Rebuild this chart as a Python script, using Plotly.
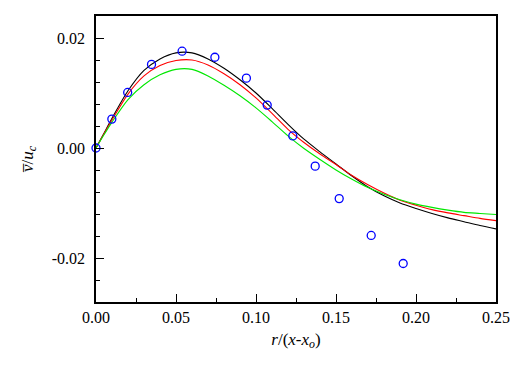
import plotly.graph_objects as go

# Measured points (blue circles)
exp_x = [0.0, 0.0099, 0.0198, 0.0347, 0.0538, 0.0743, 0.0940, 0.1070, 0.1230, 0.1370, 0.1520, 0.1720, 0.1920]
exp_y = [0.0, 0.00525, 0.0101, 0.0152, 0.0176, 0.0165, 0.0127, 0.0078, 0.0022, -0.0033, -0.0092, -0.0159, -0.0210]

# Model curves
curve_x = [0.0, 0.005, 0.01, 0.02, 0.03, 0.04, 0.05, 0.06, 0.07, 0.08, 0.09, 0.10, 0.11, 0.12, 0.13,
           0.14, 0.15, 0.16, 0.17, 0.18, 0.19, 0.20, 0.21, 0.22, 0.23, 0.24, 0.25]
black_y = [0.0, 0.0027, 0.0054, 0.0104, 0.0141, 0.0162, 0.0173, 0.0173, 0.0162, 0.0145, 0.0124, 0.0100, 0.0072,
           0.0043, 0.0016, -0.0007, -0.0029, -0.0051, -0.0071, -0.0087, -0.0100, -0.0110, -0.0119, -0.0127,
           -0.0134, -0.0141, -0.0147]
red_y = [0.0, 0.0026, 0.0051, 0.0098, 0.0131, 0.0150, 0.0159, 0.0160, 0.0151, 0.0135, 0.0115, 0.0091, 0.0063,
         0.0034, 0.0010, -0.0011, -0.0030, -0.0050, -0.0067, -0.0082, -0.0095, -0.0104, -0.0112, -0.0118,
         -0.0123, -0.0128, -0.0132]
green_y = [0.0, 0.0024, 0.0047, 0.0088, 0.0115, 0.0133, 0.0143, 0.0143, 0.0131, 0.0114, 0.0095, 0.0073, 0.0048,
           0.0022, -0.0001, -0.0021, -0.0040, -0.0057, -0.0072, -0.0084, -0.0094, -0.0102, -0.0108, -0.0113,
           -0.0117, -0.0119, -0.0121]

x_ticks = [0.0, 0.05, 0.10, 0.15, 0.20, 0.25]
x_tick_labels = ["0.00", "0.05", "0.10", "0.15", "0.20", "0.25"]
y_ticks = [-0.02, 0.0, 0.02]
y_tick_labels = ["-0.02", "0.00", "0.02"]

SERIF = "Liberation Serif"

fig = go.Figure()
fig.add_trace(go.Scatter(x=curve_x, y=black_y, mode="lines",
                         line=dict(color="black", width=1.1, shape="spline", smoothing=0.8), showlegend=False))
fig.add_trace(go.Scatter(x=curve_x, y=red_y, mode="lines",
                         line=dict(color="#ff0000", width=1.1, shape="spline", smoothing=0.8), showlegend=False))
fig.add_trace(go.Scatter(x=curve_x, y=green_y, mode="lines",
                         line=dict(color="#00e800", width=1.1, shape="spline", smoothing=0.8), showlegend=False))
fig.add_trace(go.Scatter(x=exp_x, y=exp_y, mode="markers",
                         marker=dict(symbol="circle-open", size=8, color="#0000ff", line=dict(width=1.3)),
                         showlegend=False, cliponaxis=False))

# The page body has an 8px margin, so the figure is sized/offset to compensate
fig.update_layout(
    width=508, height=352,
    margin=dict(l=88, r=16, t=6, b=58),
    paper_bgcolor="white", plot_bgcolor="white",
    font=dict(family=SERIF, size=16, color="black"),
    xaxis=dict(range=[0, 0.25], tickvals=x_ticks, ticktext=x_tick_labels,
               ticks="inside", ticklen=8, tickwidth=1, tickcolor="black",
               minor=dict(dtick=0.025, ticks="inside", ticklen=4, tickwidth=1, tickcolor="black"),
               showline=True, linecolor="black", linewidth=1.5, mirror=True,
               showgrid=False, zeroline=False,
               title=dict(text="<i>r</i>/(<i>x</i>-<i>x</i><sub><i>o</i></sub>)", standoff=8,
                          font=dict(family=SERIF, size=17))),
    yaxis=dict(range=[-0.028, 0.024], tickvals=y_ticks, ticktext=y_tick_labels,
               ticks="inside", ticklen=8, tickwidth=1, tickcolor="black",
               minor=dict(tick0=0, dtick=0.004, ticks="inside", ticklen=4, tickwidth=1, tickcolor="black"),
               showline=True, linecolor="black", linewidth=1.5, mirror=True,
               showgrid=False, zeroline=False, ticklabelstandoff=6,
               title=dict(text="<i>v\u0305</i>/<i>u</i><sub><i>c</i></sub>", standoff=14,
                          font=dict(family=SERIF, size=17))),
)

fig.write_html("out.html")
